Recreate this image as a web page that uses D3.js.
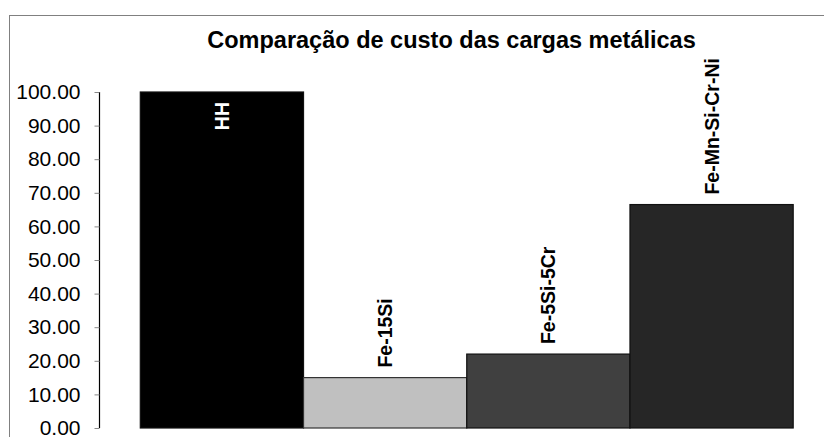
<!DOCTYPE html>
<html>
<head>
<meta charset="utf-8">
<script src="https://cdn.jsdelivr.net/npm/d3@7"></script>
<style>
  html, body { margin: 0; padding: 0; background: #fff; }
  svg { display: block; font-family: Arial, "Liberation Sans", sans-serif; }
</style>
</head>
<body>
<svg id="chart" width="824" height="437"></svg>
<script>
// Relative cost of each metallic charge (HH = 100)
const categories = ["HH", "Fe-15Si", "Fe-5Si-5Cr", "Fe-Mn-Si-Cr-Ni"];
const values = [100, 15, 22, 66.5];
const colors = ["#000000", "#c0c0c0", "#404040", "#262626"];
const labelColors = ["#ffffff", "#000000", "#000000", "#000000"];
const tickValues = [0, 10, 20, 30, 40, 50, 60, 70, 80, 90, 100];
const title = "Comparação de custo das cargas metálicas";

const svg = d3.select("#chart");
const W = 824, H = 437;

// outer chart frame
svg.append("rect")
  .attr("x", 9.5).attr("y", 15.5)
  .attr("width", W + 20).attr("height", H + 20)
  .attr("fill", "#fff").attr("stroke", "#808080").attr("stroke-width", 1);

const plot = { left: 99.5, right: 834, top: 92, bottom: 428 };

const x = d3.scaleBand()
  .domain(categories)
  .range([plot.left, plot.right])
  .paddingInner(0)
  .paddingOuter(0.25);

const y = d3.scaleLinear()
  .domain([0, 100])
  .range([plot.bottom, plot.top]);

// bars
svg.append("g").selectAll("rect")
  .data(categories)
  .join("rect")
  .attr("x", d => x(d))
  .attr("y", (d, i) => y(values[i]))
  .attr("width", x.bandwidth())
  .attr("height", (d, i) => y(0) - y(values[i]))
  .attr("fill", (d, i) => colors[i])
  .attr("stroke", (d, i) => i === 1 ? "#333" : "#111")
  .attr("stroke-width", 1.2);

// y axis
const yAxis = d3.axisLeft(y)
  .tickValues(tickValues)
  .tickFormat(d3.format(".2f"))
  .tickSize(5)
  .tickPadding(14);

const gy = svg.append("g")
  .attr("transform", `translate(${plot.left},0)`)
  .call(yAxis);
gy.select(".domain").attr("stroke", "#000").attr("stroke-width", 1.2)
  .attr("d", `M0,${plot.top}V${plot.bottom}`);
gy.selectAll(".tick line").attr("stroke", "#888");
gy.selectAll(".tick text")
  .attr("fill", "#000")
  .attr("font-size", 21)
  .attr("font-family", "Arial, 'Liberation Sans', sans-serif");

// value-name labels, rotated
svg.append("g").selectAll("text")
  .data(categories)
  .join("text")
  .attr("transform", (d, i) => {
    const cx = x(d) + x.bandwidth() / 2;
    const inside = values[i] >= 95;
    const yy = inside ? y(values[i]) + 10 : y(values[i]) - 10;
    return `translate(${cx + 7},${yy}) rotate(-90)`;
  })
  .attr("text-anchor", (d, i) => values[i] >= 95 ? "end" : "start")
  .attr("font-size", 19.5)
  .attr("font-weight", "bold")
  .attr("fill", (d, i) => labelColors[i])
  .text(d => d);

// title
svg.append("text")
  .attr("x", 451.5).attr("y", 48)
  .attr("text-anchor", "middle")
  .attr("font-size", 23.5)
  .attr("font-weight", "bold")
  .attr("fill", "#000")
  .text(title);
</script>
</body>
</html>
